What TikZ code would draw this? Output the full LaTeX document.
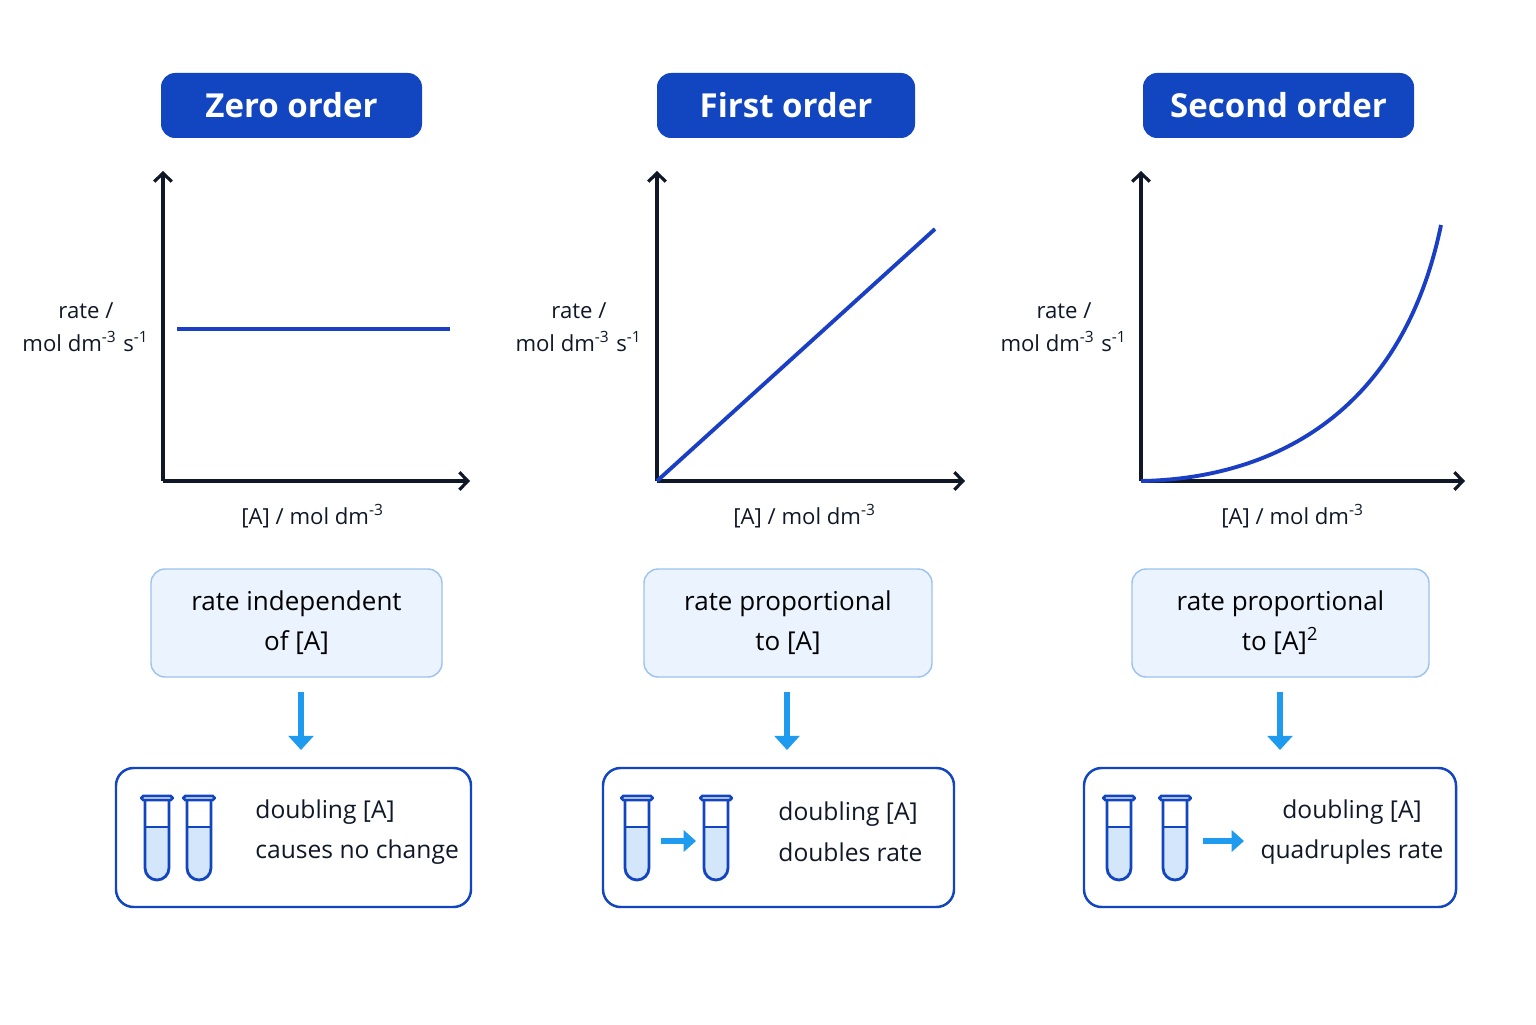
\documentclass[tikz,border=0pt]{standalone}
\usepackage{fontspec}
\setmainfont{Open Sans}
\usetikzlibrary{arrows.meta}
\definecolor{titleblue}{HTML}{1246C0}
\definecolor{curveblue}{HTML}{1A3FC4}
\definecolor{axisdark}{HTML}{101828}
\definecolor{paleblue}{HTML}{EAF3FE}
\definecolor{paleedge}{HTML}{9CC2EE}
\definecolor{skyarrow}{HTML}{1E9BEF}
\definecolor{liquid}{HTML}{D3E6FA}
\tikzset{
	title/.style    = {fill=titleblue, rounded corners=4pt, text=white, font=\fontsize{9.4}{11}\selectfont\bfseries,
		minimum height=0.65cm, inner sep=0pt},
	desc/.style     = {fill=paleblue, draw=paleedge, rounded corners=4pt, line width=0.4pt,
		minimum height=1.08cm, align=center, font=\fontsize{7.4}{11.4}\selectfont, inner sep=0pt},
	result/.style   = {draw=titleblue, line width=0.7pt, rounded corners=5pt, minimum height=1.39cm, inner sep=0pt},
	axis/.style     = {draw=axisdark, line width=0.9pt, -{Straight Barb[length=2.4pt,width=5pt]}},
	curve/.style    = {draw=curveblue, line width=1.1pt},
	lab/.style      = {text=axisdark, font=\fontsize{6.3}{9.4}\selectfont, align=center},
	txt/.style      = {text=axisdark, font=\fontsize{7.0}{11.6}\selectfont, align=left},
	down/.style     = {draw=skyarrow, line width=1.6pt, -{Triangle[length=4pt,width=7pt]}},
	side/.style     = {draw=skyarrow, line width=1.8pt, -{Triangle[length=3.5pt,width=6pt]}}
}
\newcommand{\sx}[1]{\textsuperscript{#1}}
% test tube: centre x, top y
\newcommand{\tube}[2]{%
	\fill[liquid] (#1-0.12,#2-0.31) -- (#1-0.12,#2-0.72) arc(180:360:0.12) -- (#1+0.12,#2-0.31) -- cycle;
	\draw[titleblue, line width=0.8pt] (#1-0.12,#2-0.03) -- (#1-0.12,#2-0.72) arc(180:360:0.12) -- (#1+0.12,#2-0.03);
	\draw[titleblue, line width=0.8pt, rounded corners=0.5pt] (#1-0.155,#2) rectangle (#1+0.155,#2-0.04);
	\draw[titleblue, line width=0.5pt] (#1-0.12,#2-0.31) -- (#1+0.12,#2-0.31);
}
\begin{document}
\begin{tikzpicture}
	\useasboundingbox[fill=white] (0,0) rectangle (15.36,10.24);
	% titles
	\node[title, minimum width=2.61cm] (t1) at (2.915,9.185) {Zero order};
	\node[title, minimum width=2.58cm] (t2) at (7.86,9.185) {First order};
	\node[title, minimum width=2.71cm] (t3) at (12.785,9.185) {Second order};
	% axes
	\coordinate (o1) at (1.63,5.43); \coordinate (o2) at (6.57,5.43); \coordinate (o3) at (11.41,5.43);
	\coordinate (y1) at (1.63,8.53); \coordinate (y2) at (6.57,8.53); \coordinate (y3) at (11.41,8.53);
	\coordinate (x1) at (4.70,5.43); \coordinate (x2) at (9.65,5.43); \coordinate (x3) at (14.65,5.43);
	\foreach \i in {1,2,3} {
		\draw[axis] (o\i) -- (y\i);
		\draw[axis] (o\i) -- (x\i);
	}
	% curves
	\draw[curve] (1.77,6.95) -- (4.50,6.95);
	\draw[curve] (o2) -- (9.35,7.95);
	\draw[curve] (o3) .. controls (12.6,5.45) and (14.0,6.0) .. (14.41,7.99);
	% axis labels
	\node[lab] (r1) at (0.86,6.97) {rate /\\mol dm\sx{-3} s\sx{-1}};
	\node[lab] (r2) at (5.79,6.97) {rate /\\mol dm\sx{-3} s\sx{-1}};
	\node[lab] (r3) at (10.64,6.97) {rate /\\mol dm\sx{-3} s\sx{-1}};
	\node[lab] (a1) at (3.13,5.08) {[A] / mol dm\sx{-3}};
	\node[lab] (a2) at (8.05,5.08) {[A] / mol dm\sx{-3}};
	\node[lab] (a3) at (12.93,5.08) {[A] / mol dm\sx{-3}};
	% descriptions
	\node[desc, minimum width=2.91cm] (d1) at (2.965,4.01) {rate independent\\of [A]};
	\node[desc, minimum width=2.88cm] (d2) at (7.88,4.01) {rate proportional\\to [A]};
	\node[desc, minimum width=2.97cm] (d3) at (12.805,4.01) {rate proportional\\to [A]\sx{2}};
	% results
	\node[result, minimum width=3.55cm] (b1) at (2.935,1.865) {};
	\node[result, minimum width=3.51cm] (b2) at (7.785,1.865) {};
	\node[result, minimum width=3.72cm] (b3) at (12.70,1.865) {};
	\draw[down] (3.01,3.32) -- (3.01,2.74);
	\draw[down] (7.87,3.32) -- (7.87,2.74);
	\draw[down] (12.80,3.32) -- (12.80,2.74);
	% tubes
	\tube{1.57}{2.28} \tube{1.99}{2.28}
	\tube{6.37}{2.28} \tube{7.16}{2.28}
	\tube{11.19}{2.28} \tube{11.75}{2.28}
	\coordinate (s2a) at (6.61,1.83); \coordinate (s2b) at (6.96,1.83);
	\coordinate (s3a) at (12.03,1.83); \coordinate (s3b) at (12.44,1.83);
	\draw[side] (s2a) -- (s2b);
	\draw[side] (s3a) -- (s3b);
	\node[txt, anchor=west] (e1) at (2.43,1.92) {doubling [A]\\causes no change};
	\node[txt, anchor=west] (e2) at (7.66,1.92) {doubling [A]\\doubles rate};
	\node[txt, align=center] (e3) at (13.52,1.92) {doubling [A]\\quadruples rate};
\end{tikzpicture}
\end{document}
